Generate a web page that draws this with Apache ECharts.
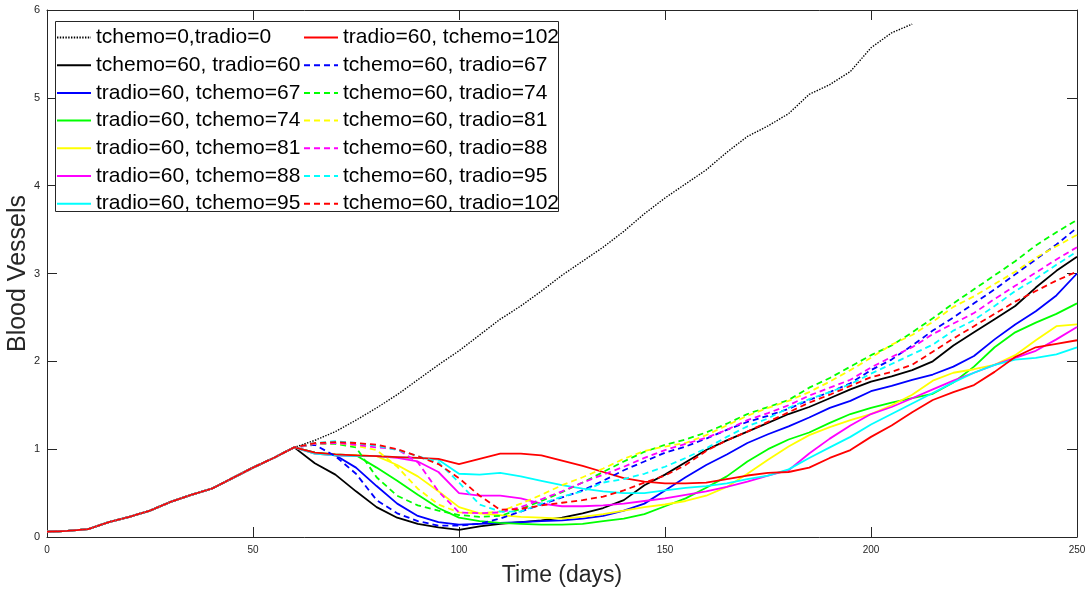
<!DOCTYPE html>
<html>
<head>
<meta charset="utf-8">
<script src="https://cdn.jsdelivr.net/npm/echarts@6/dist/echarts.min.js"></script>
<style>
  html, body { margin: 0; padding: 0; background: #ffffff; }
  #chart { width: 1090px; height: 590px; }
</style>
</head>
<body>
<div id="chart"></div>
<script>
// Sample days (every 5 days over the simulated period)
const days = [0, 5, 10, 15, 20, 25, 30, 35, 40, 45, 50, 55, 60, 65, 70, 75, 80, 85, 90, 95, 100,
  105, 110, 115, 120, 125, 130, 135, 140, 145, 150, 155, 160, 165, 170, 175, 180, 185, 190, 195, 200,
  205, 210, 215, 220, 225, 230, 235, 240, 245, 250];

// Shared growth phase before any treatment starts (days 0..60)
const growthPhase = [0.06, 0.07, 0.09, 0.17, 0.23, 0.30, 0.40, 0.48, 0.55, 0.67, 0.79, 0.90, 1.02];

// Untreated case, days 65..210
const noTreatment = [1.10, 1.20, 1.33, 1.47, 1.62, 1.79, 1.96, 2.12, 2.30, 2.48, 2.63, 2.80, 2.98, 3.14,
  3.30, 3.48, 3.68, 3.86, 4.02, 4.18, 4.38, 4.56, 4.68, 4.82, 5.04, 5.15, 5.30, 5.57, 5.74, 5.84];

// Treated cases, days 65..250
const chemo60Radio60 = [0.84, 0.71, 0.52, 0.34, 0.22, 0.15, 0.11, 0.08, 0.12, 0.15, 0.17, 0.19, 0.22, 0.27,
  0.33, 0.42, 0.59, 0.71, 0.85, 0.99, 1.10, 1.20, 1.30, 1.40, 1.48, 1.58, 1.68, 1.77, 1.83, 1.90, 2.00,
  2.18, 2.33, 2.48, 2.63, 2.84, 3.03, 3.19];
const radio60Chemo67 = [0.96, 0.93, 0.79, 0.58, 0.38, 0.24, 0.17, 0.14, 0.15, 0.16, 0.17, 0.18, 0.19, 0.21,
  0.24, 0.30, 0.38, 0.53, 0.68, 0.82, 0.94, 1.07, 1.17, 1.26, 1.36, 1.47, 1.55, 1.66, 1.72, 1.79, 1.85,
  1.94, 2.06, 2.25, 2.42, 2.57, 2.75, 3.00];
const radio60Chemo74 = [0.96, 0.94, 0.93, 0.79, 0.64, 0.48, 0.33, 0.22, 0.18, 0.16, 0.15, 0.14, 0.14, 0.15,
  0.18, 0.21, 0.26, 0.35, 0.44, 0.56, 0.69, 0.86, 1.00, 1.11, 1.19, 1.30, 1.40, 1.47, 1.53, 1.58, 1.63,
  1.76, 1.94, 2.16, 2.33, 2.44, 2.54, 2.66];
const radio60Chemo81 = [0.95, 0.93, 0.93, 0.92, 0.82, 0.69, 0.52, 0.34, 0.27, 0.25, 0.23, 0.22, 0.21, 0.23,
  0.26, 0.30, 0.34, 0.37, 0.41, 0.47, 0.57, 0.72, 0.88, 1.03, 1.16, 1.25, 1.33, 1.40, 1.50, 1.62, 1.78,
  1.87, 1.91, 1.96, 2.07, 2.24, 2.40, 2.42];
const radio60Chemo88 = [0.95, 0.93, 0.92, 0.92, 0.90, 0.86, 0.74, 0.50, 0.47, 0.47, 0.44, 0.38, 0.35, 0.35,
  0.36, 0.38, 0.41, 0.44, 0.48, 0.52, 0.57, 0.63, 0.70, 0.76, 0.95, 1.12, 1.27, 1.40, 1.48, 1.58, 1.68,
  1.78, 1.87, 1.96, 2.04, 2.12, 2.25, 2.39];
const radio60Chemo95 = [0.95, 0.93, 0.92, 0.92, 0.91, 0.90, 0.88, 0.72, 0.71, 0.73, 0.69, 0.64, 0.59, 0.55,
  0.52, 0.50, 0.50, 0.53, 0.56, 0.58, 0.61, 0.66, 0.70, 0.77, 0.90, 1.02, 1.14, 1.28, 1.40, 1.52, 1.64,
  1.76, 1.87, 1.96, 2.02, 2.04, 2.08, 2.16];
const radio60Chemo102 = [0.96, 0.94, 0.93, 0.92, 0.91, 0.90, 0.89, 0.83, 0.89, 0.95, 0.95, 0.93, 0.87, 0.81,
  0.74, 0.67, 0.63, 0.61, 0.61, 0.62, 0.66, 0.70, 0.73, 0.74, 0.79, 0.90, 0.99, 1.14, 1.27, 1.42, 1.56,
  1.65, 1.73, 1.88, 2.05, 2.16, 2.20, 2.24];
const chemo60Radio67 = [1.05, 0.92, 0.72, 0.42, 0.27, 0.18, 0.13, 0.13, 0.15, 0.21, 0.29, 0.37, 0.45, 0.53,
  0.64, 0.76, 0.86, 0.96, 1.03, 1.12, 1.22, 1.31, 1.38, 1.46, 1.56, 1.65, 1.75, 1.90, 2.02, 2.18, 2.35,
  2.50, 2.66, 2.82, 2.99, 3.16, 3.33, 3.52];
const chemo60Radio74 = [1.06, 1.06, 1.02, 0.68, 0.47, 0.36, 0.30, 0.25, 0.23, 0.24, 0.32, 0.41, 0.51, 0.62,
  0.74, 0.86, 0.97, 1.05, 1.11, 1.19, 1.29, 1.40, 1.48, 1.56, 1.70, 1.81, 1.94, 2.07, 2.18, 2.33, 2.49,
  2.66, 2.82, 2.98, 3.14, 3.32, 3.47, 3.61];
const chemo60Radio81 = [1.06, 1.07, 1.04, 0.99, 0.80, 0.55, 0.37, 0.28, 0.27, 0.29, 0.38, 0.48, 0.59, 0.68,
  0.78, 0.89, 0.98, 1.03, 1.07, 1.16, 1.27, 1.38, 1.47, 1.55, 1.65, 1.77, 1.90, 2.04, 2.19, 2.30, 2.45,
  2.62, 2.74, 2.88, 3.02, 3.18, 3.31, 3.44];
const chemo60Radio88 = [1.06, 1.07, 1.05, 1.02, 1.00, 0.85, 0.52, 0.28, 0.27, 0.28, 0.34, 0.43, 0.52, 0.62,
  0.71, 0.80, 0.90, 0.99, 1.06, 1.13, 1.22, 1.33, 1.41, 1.50, 1.61, 1.70, 1.79, 1.93, 2.05, 2.16, 2.31,
  2.43, 2.55, 2.71, 2.86, 3.01, 3.16, 3.30];
const chemo60Radio95 = [1.07, 1.09, 1.07, 1.04, 0.99, 0.92, 0.85, 0.62, 0.37, 0.29, 0.29, 0.38, 0.46, 0.52,
  0.62, 0.66, 0.72, 0.80, 0.90, 1.01, 1.14, 1.26, 1.35, 1.47, 1.57, 1.65, 1.74, 1.86, 1.97, 2.08, 2.19,
  2.35, 2.47, 2.63, 2.80, 2.94, 3.10, 3.25];
const chemo60Radio102 = [1.07, 1.08, 1.07, 1.05, 1.00, 0.92, 0.83, 0.67, 0.47, 0.31, 0.32, 0.36, 0.39, 0.42,
  0.46, 0.53, 0.62, 0.70, 0.82, 0.98, 1.10, 1.20, 1.31, 1.42, 1.53, 1.62, 1.72, 1.82, 1.88, 1.96, 2.11,
  2.26, 2.40, 2.54, 2.68, 2.80, 2.92, 3.02];

// Axis ticks
const xTicks = { min: 0, max: 250, step: 50 };
const yTicks = { min: 0, max: 6, step: 1 };

// Legend entries, plot order (column-major in the two-column legend)
const seriesDefs = [
  { name: 'tchemo=0,tradio=0',      tail: noTreatment,     color: '#000000', kind: 'dotted' },
  { name: 'tchemo=60, tradio=60',   tail: chemo60Radio60,  color: '#000000', kind: 'solid' },
  { name: 'tradio=60, tchemo=67',   tail: radio60Chemo67,  color: '#0000ff', kind: 'solid' },
  { name: 'tradio=60, tchemo=74',   tail: radio60Chemo74,  color: '#00ff00', kind: 'solid' },
  { name: 'tradio=60, tchemo=81',   tail: radio60Chemo81,  color: '#ffff00', kind: 'solid' },
  { name: 'tradio=60, tchemo=88',   tail: radio60Chemo88,  color: '#ff00ff', kind: 'solid' },
  { name: 'tradio=60, tchemo=95',   tail: radio60Chemo95,  color: '#00ffff', kind: 'solid' },
  { name: 'tradio=60, tchemo=102',  tail: radio60Chemo102, color: '#ff0000', kind: 'solid' },
  { name: 'tchemo=60, tradio=67',   tail: chemo60Radio67,  color: '#0000ff', kind: 'dashed' },
  { name: 'tchemo=60, tradio=74',   tail: chemo60Radio74,  color: '#00ff00', kind: 'dashed' },
  { name: 'tchemo=60, tradio=81',   tail: chemo60Radio81,  color: '#ffff00', kind: 'dashed' },
  { name: 'tchemo=60, tradio=88',   tail: chemo60Radio88,  color: '#ff00ff', kind: 'dashed' },
  { name: 'tchemo=60, tradio=95',   tail: chemo60Radio95,  color: '#00ffff', kind: 'dashed' },
  { name: 'tchemo=60, tradio=102',  tail: chemo60Radio102, color: '#ff0000', kind: 'dashed' }
];

const dashPatterns = { solid: 'solid', dashed: [6, 4], dotted: [1.4, 1.4] };
const axisColor = '#262626';
const fontFamily = '"Liberation Sans", Arial, Helvetica, sans-serif';

function toPoints(values) {
  return values.map((v, i) => [days[i], v]);
}

const series = seriesDefs.map(def => ({
  name: def.name,
  type: 'line',
  data: toPoints(growthPhase.concat(def.tail)),
  symbol: 'none',
  showSymbol: false,
  smooth: false,
  color: def.color,
  lineStyle: {
    color: def.color,
    width: def.kind === 'dotted' ? 1.4 : 1.8,
    type: dashPatterns[def.kind]
  },
  emphasis: { disabled: true },
  z: 2
}));

const names = seriesDefs.map(d => d.name);

function xAxisOf(position, showText) {
  return {
    type: 'value',
    position: position,
    min: xTicks.min, max: xTicks.max, interval: xTicks.step,
    axisLine: { show: true, onZero: false, lineStyle: { color: axisColor, width: 1 } },
    axisTick: { show: true, inside: true, length: 10, lineStyle: { color: axisColor, width: 1 } },
    axisLabel: { show: showText, color: axisColor, fontSize: 10, margin: 8, fontFamily: fontFamily },
    splitLine: { show: false },
    name: showText ? 'Time (days)' : '',
    nameLocation: 'middle',
    nameGap: 27,
    nameMoveOverlap: false,
    nameTextStyle: { fontSize: 23, color: axisColor, fontFamily: fontFamily }
  };
}

function yAxisOf(position, showText) {
  return {
    type: 'value',
    position: position,
    min: yTicks.min, max: yTicks.max, interval: yTicks.step,
    axisLine: { show: true, onZero: false, lineStyle: { color: axisColor, width: 1 } },
    axisTick: { show: true, inside: true, length: 10, lineStyle: { color: axisColor, width: 1 } },
    axisLabel: { show: showText, color: axisColor, fontSize: 11, margin: 7, fontFamily: fontFamily },
    splitLine: { show: false },
    name: showText ? 'Blood Vessels' : '',
    nameLocation: 'middle',
    nameGap: 16,
    nameMoveOverlap: false,
    nameTextStyle: { fontSize: 25, color: axisColor, fontFamily: fontFamily }
  };
}

function legendColumn(items, left) {
  return {
    data: items,
    orient: 'vertical',
    left: left,
    top: 27,
    padding: 0,
    itemWidth: 34,
    itemHeight: 14,
    itemGap: 6.7,
    selectedMode: false,
    itemStyle: { opacity: 0 },
    textStyle: { fontSize: 21, color: '#000000', lineHeight: 20, fontFamily: fontFamily },
    z: 5
  };
}

const chart = echarts.init(document.getElementById('chart'), null, { renderer: 'canvas' });
chart.setOption({
  animation: false,
  backgroundColor: '#ffffff',
  textStyle: { fontFamily: fontFamily },
  grid: { left: 47, right: 13, top: 10, bottom: 53, containLabel: false, outerBoundsMode: 'none' },
  xAxis: [xAxisOf('bottom', true), xAxisOf('top', false)],
  yAxis: [yAxisOf('left', true), yAxisOf('right', false)],
  legend: [legendColumn(names.slice(0, 7), 56), legendColumn(names.slice(7), 303)],
  graphic: [{
    type: 'rect',
    z: 4,
    shape: { x: 55.5, y: 21.5, width: 503, height: 190 },
    style: { fill: '#ffffff', stroke: axisColor, lineWidth: 1 }
  }],
  series: series
});
</script>
</body>
</html>
